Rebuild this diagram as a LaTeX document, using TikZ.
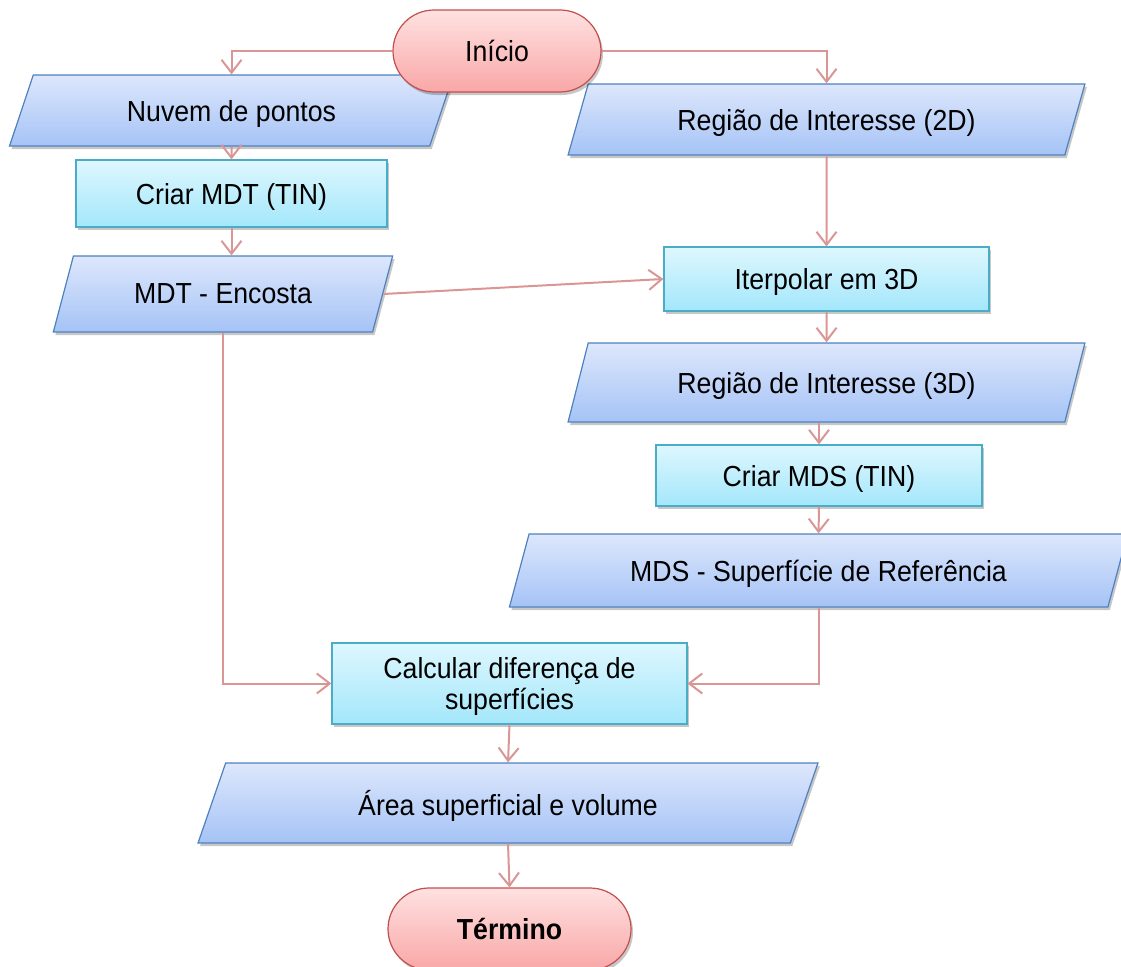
\documentclass[tikz,border=0pt]{standalone}
\usepackage{fontspec}
\setmainfont{Liberation Sans}[FakeStretch=0.92]
\usetikzlibrary{positioning, shapes.geometric, shadows, arrows.meta}

\definecolor{dadosborda}{HTML}{4F81BD}
\definecolor{dadostopo}{HTML}{DDE7FC}
\definecolor{dadosbase}{HTML}{A5C3F6}
\definecolor{procborda}{HTML}{4BACC6}
\definecolor{proctopo}{HTML}{DEF7FE}
\definecolor{procbase}{HTML}{A3E7FB}
\definecolor{termborda}{HTML}{C0504D}
\definecolor{termtopo}{HTML}{FFE1E1}
\definecolor{termbase}{HTML}{F9A7A7}
\definecolor{setacor}{HTML}{D99694}

\begin{document}
\begin{tikzpicture}[x=1pt, y=-1pt,
    every node/.style={font=\fontsize{29}{31}\selectfont, align=center, inner sep=2pt, text depth=0pt},
    sombra/.style={drop shadow={shadow xshift=2pt, shadow yshift=-3pt, opacity=0.22, fill=black}},
    dados/.style={trapezium, trapezium left angle=63, trapezium right angle=117,
        trapezium stretches, draw=dadosborda, line width=1.2pt,
        top color=dadostopo, bottom color=dadosbase, sombra},
    processo/.style={rectangle, draw=procborda, line width=1.2pt,
        top color=proctopo, bottom color=procbase, sombra},
    terminal/.style={rectangle, rounded corners=41pt, draw=termborda, line width=1.2pt,
        top color=termtopo, bottom color=termbase, sombra,
        minimum width=208pt, minimum height=82pt},
    seta/.style={draw=setacor, line width=2pt, -{Straight Barb[length=13pt,width=20pt]}}]

    \useasboundingbox (0,0) rectangle (1121,966);
    \clip (0,0) rectangle (1121,966);

    % coluna da esquerda
    \node[dados, minimum width=445pt, minimum height=71pt] (nuvem) at (231.5,110.5) {Nuvem de pontos};
    \node[processo, minimum width=311pt, minimum height=67pt] (criarmdt) at (231.5,193.5) {Criar MDT (TIN)};
    \node[dados, minimum width=340pt, minimum height=76pt] (mdt) at (223,294) {MDT - Encosta};

    % coluna da direita
    \node[dados, minimum width=517pt, minimum height=71pt] (reg2d) at (826.5,119.5) {Região de Interesse (2D)};
    \node[processo, minimum width=325pt, minimum height=64pt] (interp) at (826.5,279) {Iterpolar em 3D};
    \node[dados, minimum width=517pt, minimum height=79pt] (reg3d) at (826.5,382.5) {Região de Interesse (3D)};
    \node[processo, minimum width=326pt, minimum height=61pt] (criarmds) at (819,475.5) {Criar MDS (TIN)};
    \node[dados, minimum width=619pt, minimum height=73pt] (mds) at (818.5,570.5) {MDS - Superfície de Referência};

    % parte de baixo
    \node[processo, minimum width=355pt, minimum height=81pt] (calc) at (509.5,683.5) {Calcular diferença de\\superfícies};
    \node[dados, minimum width=622pt, minimum height=80pt] (area) at (508,803) {Área superficial e volume};

    % inicio e termino
    \node[terminal] (inicio) at (497,51) {Início};
    \node[terminal, minimum width=243pt, font=\fontsize{29}{31}\selectfont\bfseries] (termino) at (509.5,929) {Término};

    % setas
    \draw[seta] (inicio.west) -| (nuvem.north);
    \draw[seta] (inicio.east) -| (reg2d.north);
    \draw[seta] (nuvem.south) -- (criarmdt.north);
    \draw[seta] (criarmdt.south) -- (criarmdt.south |- mdt.north);
    \draw[seta] (mdt.east) -- (interp.west);
    \draw[seta] (reg2d.south) -- (interp.north);
    \draw[seta] (interp.south) -- (reg3d.north);
    \draw[seta] (criarmds.north |- reg3d.south) -- (criarmds.north);
    \draw[seta] (criarmds.south) -- (mds.north);
    \draw[seta] (mdt.south) |- (calc.west);
    \draw[seta] (mds.south) |- (calc.east);
    \draw[seta] (calc.south) -- (area.north);
    \draw[seta] (area.south) -- (termino.north);

\end{tikzpicture}
\end{document}
